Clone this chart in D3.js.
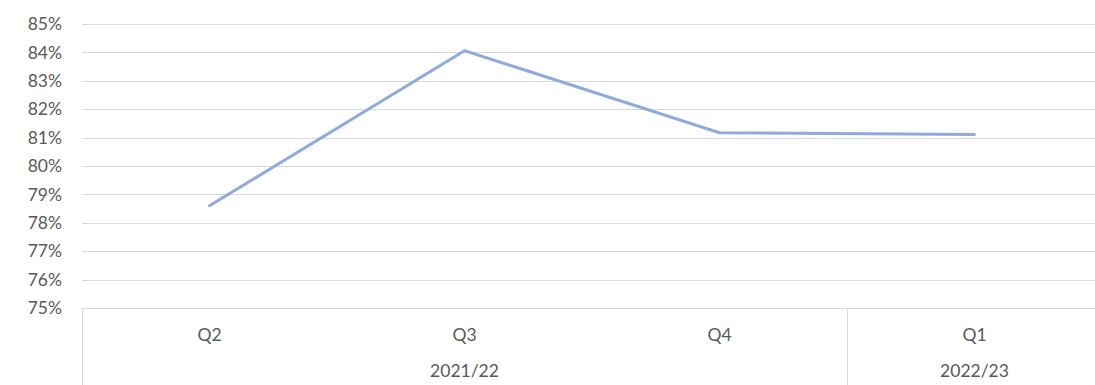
<!DOCTYPE html>
<html>
<head>
<meta charset="utf-8">
<script src="https://cdn.jsdelivr.net/npm/d3@7"></script>
<style>
  html, body { margin: 0; padding: 0; background: #fff; }
  svg { display: block; }
  text { font-family: Lato, "Open Sans", sans-serif; fill: #595959; }
</style>
</head>
<body>
<svg id="chart" width="1095" height="385"></svg>
<script>
// Quarterly values (percent)
const quarters = ["Q2", "Q3", "Q4", "Q1"];
const years = ["2021/22", "2021/22", "2021/22", "2022/23"];
const values = [78.6, 84.06, 81.17, 81.11];
const yTicks = [75, 76, 77, 78, 79, 80, 81, 82, 83, 84, 85];

const svg = d3.select("#chart");
const plotLeft = 82, plotRight = 1102, plotTop = 24, plotBottom = 308;
const fontSize = 17.5;

const x = d3.scaleBand().domain(d3.range(quarters.length)).range([plotLeft, plotRight]);
const y = d3.scaleLinear().domain([75, 85]).range([plotBottom, plotTop]);

// Horizontal gridlines
svg.append("g").selectAll("line").data(yTicks.filter(d => d > 75)).join("line")
  .attr("x1", plotLeft).attr("x2", plotRight)
  .attr("y1", d => Math.round(y(d)) + 0.5).attr("y2", d => Math.round(y(d)) + 0.5)
  .attr("stroke", "#d9d9d9").attr("stroke-width", 1);

// Y axis labels
const yAxis = d3.axisLeft(y).tickValues(yTicks).tickFormat(d => d + "%").tickSize(0).tickPadding(20);
const yg = svg.append("g").attr("transform", `translate(${plotLeft},0)`).call(yAxis);
yg.select(".domain").remove();
yg.selectAll("text").attr("font-size", fontSize).style("font-family", "Lato, 'Open Sans', sans-serif").attr("fill", "#595959");

// Category axis: baseline and group separators
const axisY = Math.round(y(75)) + 0.5;
svg.append("line").attr("x1", plotLeft).attr("x2", plotRight).attr("y1", axisY).attr("y2", axisY)
  .attr("stroke", "#d9d9d9");

// Group boundaries where the year label changes
const bounds = [0];
for (let i = 1; i < years.length; i++) if (years[i] !== years[i - 1]) bounds.push(i);
bounds.push(years.length);
svg.append("g").selectAll("line").data(bounds.slice(0, -1)).join("line")
  .attr("x1", d => Math.round(x(d)) + 0.5).attr("x2", d => Math.round(x(d)) + 0.5)
  .attr("y1", axisY).attr("y2", 385)
  .attr("stroke", "#d9d9d9");

// Quarter labels
svg.append("g").selectAll("text").data(quarters).join("text")
  .attr("x", (d, i) => x(i) + x.bandwidth() / 2)
  .attr("y", 341)
  .attr("text-anchor", "middle").attr("font-size", fontSize)
  .text(d => d);

// Year labels, centred on each group
const groups = bounds.slice(0, -1).map((b, k) => ({ name: years[b], start: b, end: bounds[k + 1] }));
svg.append("g").selectAll("text").data(groups).join("text")
  .attr("x", g => (x(g.start) + x(g.end - 1) + x.bandwidth()) / 2)
  .attr("y", 377)
  .attr("text-anchor", "middle").attr("font-size", fontSize)
  .text(g => g.name);

// Line series
const line = d3.line()
  .x((d, i) => x(i) + x.bandwidth() / 2)
  .y(d => y(d));
svg.append("path").datum(values)
  .attr("d", line)
  .attr("fill", "none")
  .attr("stroke", "#8faadc")
  .attr("stroke-width", 3)
  .attr("stroke-linecap", "round")
  .attr("stroke-linejoin", "round");
</script>
</body>
</html>
